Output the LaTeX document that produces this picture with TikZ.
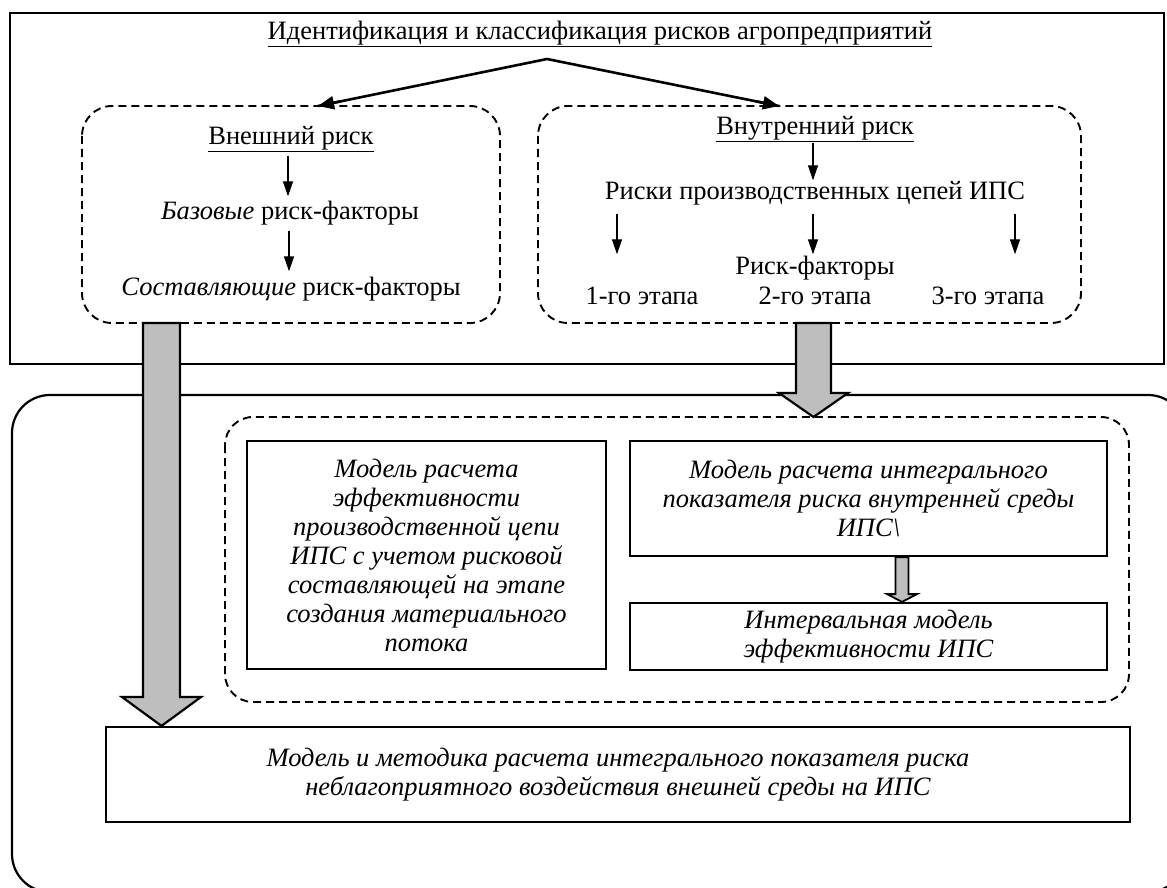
\documentclass[tikz,border=0pt]{standalone}
\usepackage{fontspec}
\setmainfont{Liberation Serif}
\usetikzlibrary{arrows.meta,calc}
\definecolor{blockgray}{RGB}{190,190,190}
\tikzset{
  frame/.style={draw, line width=2.4pt},
  dashbox/.style={draw, line width=1.9pt, dash pattern=on 8pt off 5pt, rounded corners=30pt},
  modelbox/.style={draw, line width=2.2pt, inner sep=0pt, align=center, font=\fontsize{26.5}{29}\selectfont\itshape},
  lbl/.style={inner sep=0pt, text height=18pt, text depth=5pt, font=\fontsize{26.5}{29}\selectfont},
  thinarrow/.style={line width=1.3pt, -{Triangle[length=15pt,width=10pt]}},
  peakarrow/.style={line width=2.6pt, -{Triangle[length=16pt,width=13pt]}},
  blockarrow/.style={draw, line width=2.2pt, fill=blockgray, line join=miter},
}
\begin{document}
\begin{tikzpicture}[x=1pt,y=-1pt]
\useasboundingbox (0,0) rectangle (1167,888);
% outer frames
\draw[frame] (10,13) rectangle (1164,364);
\draw[line width=2.2pt, rounded corners=38pt] (12,395) rectangle (1186,892);
% dashed groups
\draw[dashbox] (82,106) rectangle (500,323);
\draw[dashbox] (538,106) rectangle (1081,323);
\draw[dashbox, rounded corners=28pt] (225,417) rectangle (1129,702);
% title
\node[lbl] (title) at (600,33) {\underline{Идентификация и классификация рисков агропредприятий}};
\coordinate (peak) at (547,59);
\coordinate (ltip) at (318,106);
\coordinate (rtip) at (779,106);
\draw[line width=2.6pt] (ltip) -- (peak) -- (rtip);
\draw[peakarrow] ($(peak)!0.9!(ltip)$) -- (ltip);
\draw[peakarrow] ($(peak)!0.9!(rtip)$) -- (rtip);
% left group
\node[lbl] (ext) at (291,138) {\underline{Внешний риск}};
\node[lbl] (base) at (290,213) {\textit{Базовые} риск-факторы};
\node[lbl] (comp) at (291,289) {\textit{Составляющие} риск-факторы};
\draw[thinarrow] ($(ext.south)+(-3,6)$) -- ($(base.north)+(-2,-5)$);
\draw[thinarrow] ($(base.south)+(-1,6)$) -- ($(comp.north)+(-2,-6)$);
% right group
\node[lbl] (int) at (815,128) {\underline{Внутренний риск}};
\node[lbl] (chains) at (815,193) {Риски производственных цепей ИПС};
\node[lbl] (rf) at (815,268) {Риск-факторы};
\node[lbl] (s1) at (642,298) {1-го этапа};
\node[lbl] (s2) at (815,298) {2-го этапа};
\node[lbl] (s3) at (988,298) {3-го этапа};
\draw[thinarrow] ($(int.south)+(-2,3)$) -- ($(chains.north)+(-2,-1)$);
\draw[thinarrow] ($(chains.south)+(-198,9)$) -- ($(s1.north)+(-25,-32)$);
\draw[thinarrow] ($(chains.south)+(-2,9)$) -- ($(rf.north)+(-2,-2)$);
\draw[thinarrow] ($(chains.south)+(200,9)$) -- ($(s3.north)+(27,-32)$);
% model boxes
\node[modelbox, minimum width=359pt, minimum height=228pt] (ma) at (426.5,555) {Модель расчета\\эффективности\\производственной цепи\\ИПС с учетом рисковой\\составляющей на этапе\\создания материального\\потока};
\node[modelbox, minimum width=477pt, minimum height=115pt] (mb) at (868.5,498.5) {Модель расчета интегрального\\показателя риска внутренней среды\\ИПС\textbackslash};
\node[modelbox, minimum width=477pt, minimum height=67pt] (mc) at (868.5,636.5) {Интервальная модель\\эффективности ИПС};
\node[modelbox, minimum width=1024pt, minimum height=95pt] (md) at (618,774.5) {Модель и методика расчета интегрального показателя риска\\неблагоприятного воздействия внешней среды на ИПС};
% block arrows
\coordinate (lA) at (161.5,323);
\coordinate (rA) at (813.5,323);
\draw[blockarrow] ($(lA)+(-18.5,0)$) -- ($(lA)+(-18.5,374)$) -- ($(lA)+(-39.5,374)$) -- (lA |- md.north) -- ($(lA)+(39.5,374)$) -- ($(lA)+(18.5,374)$) -- ($(lA)+(18.5,0)$) -- cycle;
\draw[blockarrow] ($(rA)+(-17.5,0)$) -- ($(rA)+(-17.5,70)$) -- ($(rA)+(-34.5,70)$) -- ($(rA)+(0,94)$) -- ($(rA)+(34.5,70)$) -- ($(rA)+(17.5,70)$) -- ($(rA)+(17.5,0)$) -- cycle;
\coordinate (sA) at (902,0);
\draw[blockarrow, line width=1.8pt] ($(sA |- mb.south)+(-6.5,0)$) -- ($(sA |- mb.south)+(-6.5,37)$) -- ($(sA |- mb.south)+(-15,37)$) -- (sA |- mc.north) -- ($(sA |- mb.south)+(15,37)$) -- ($(sA |- mb.south)+(6.5,37)$) -- ($(sA |- mb.south)+(6.5,0)$) -- cycle;
\end{tikzpicture}
\end{document}
